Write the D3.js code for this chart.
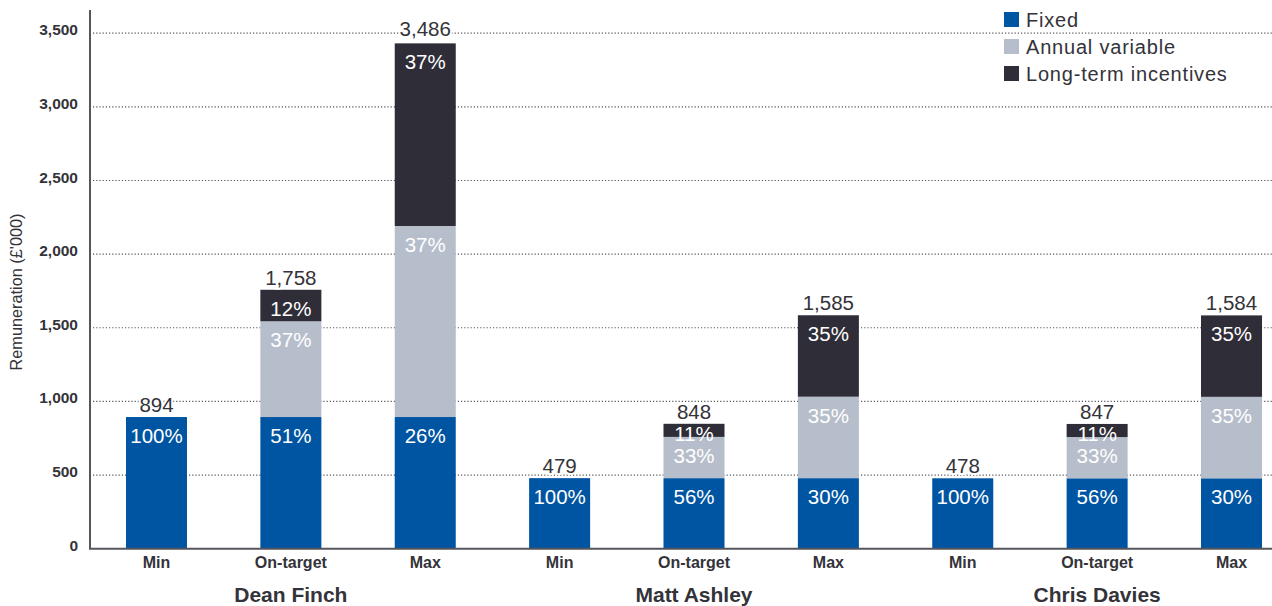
<!DOCTYPE html>
<html>
<head>
<meta charset="utf-8">
<script src="https://cdn.jsdelivr.net/npm/d3@7"></script>
<style>
  body { margin: 0; background: #fff; }
  svg { font-family: "Liberation Sans", Arial, Helvetica, sans-serif; }
</style>
</head>
<body>
<div id="chart"></div>
<script>
// Chart data
const people = ["Dean Finch", "Matt Ashley", "Chris Davies"];
const scenarios = ["Min", "On-target", "Max"];
const seriesNames = ["Fixed", "Annual variable", "Long-term incentives"];

// one value per bar: person x scenario, in order
const fixedValues  = [894, 894, 894, 479, 479, 479, 478, 478, 478];
const annualValues = [0, 650, 1297, 0, 280, 553, 0, 280, 553];
const ltiValues    = [0, 214, 1240, 0, 89, 553, 0, 89, 553];
const totals       = [894, 1758, 3486, 479, 848, 1585, 478, 847, 1584];

const fixedPct  = ["100%", "51%", "26%", "100%", "56%", "30%", "100%", "56%", "30%"];
const annualPct = [null, "37%", "37%", null, "33%", "35%", null, "33%", "35%"];
const ltiPct    = [null, "12%", "37%", null, "11%", "35%", null, "11%", "35%"];

const yTicks = [0, 500, 1000, 1500, 2000, 2500, 3000, 3500];

const colors = ["#0055a2", "#b7becb", "#2f2d38"];
const textDark = "#333339";

// Size of the picture
const width = 1272, height = 606;
const axisX = 90, baseY = 548.7;

const svg = d3.select("#chart")
  .append("svg")
  .attr("width", width)
  .attr("height", height);

// Build one row per bar
const bars = [];
people.forEach((p, i) => {
  scenarios.forEach((s, j) => {
    const k = i * 3 + j;
    bars.push({
      key: p + "|" + s, person: p, scenario: s,
      values: [fixedValues[k], annualValues[k], ltiValues[k]],
      pcts: [fixedPct[k], annualPct[k], ltiPct[k]],
      total: totals[k]
    });
  });
});

// Scales
const xScale = d3.scaleBand()
  .domain(bars.map(d => d.key))
  .range([89.3, 1298.7])
  .paddingInner(0.546)
  .paddingOuter(0.273);

const yScale = d3.scaleLinear()
  .domain([0, 3500])
  .range([baseY, 33.2]);

// Dotted gridlines
svg.append("g")
  .selectAll("line")
  .data(yTicks.filter(t => t > 0))
  .enter()
  .append("line")
  .attr("x1", axisX + 3)
  .attr("x2", width)
  .attr("y1", d => yScale(d))
  .attr("y2", d => yScale(d))
  .attr("stroke", "#55555c")
  .attr("stroke-width", 1.2)
  .attr("stroke-dasharray", "1.2,2");

// Stacked segments
const stack = d3.stack()
  .keys([0, 1, 2])
  .value((d, key) => d.values[key]);
const layers = stack(bars);

layers.forEach((layer, li) => {
  const g = svg.append("g");
  g.selectAll("rect")
    .data(layer.filter(d => d[1] > d[0]))
    .enter()
    .append("rect")
    .attr("x", d => xScale(d.data.key))
    .attr("width", xScale.bandwidth())
    .attr("y", d => yScale(d[1]))
    .attr("height", d => yScale(d[0]) - yScale(d[1]))
    .attr("fill", colors[li]);

  // percentage labels near the top of each segment
  g.selectAll("text")
    .data(layer.filter(d => d[1] > d[0] && d.data.pcts[li]))
    .enter()
    .append("text")
    .attr("x", d => xScale(d.data.key) + xScale.bandwidth() / 2)
    .attr("y", d => {
      const top = yScale(d[1]);
      const h = yScale(d[0]) - top;
      return top + Math.min(26, h + 4);
    })
    .attr("text-anchor", "middle")
    .attr("font-size", 20.5)
    .attr("fill", "#ffffff")
    .text(d => d.data.pcts[li]);
});

// Totals above the bars
svg.append("g")
  .selectAll("text")
  .data(bars)
  .enter()
  .append("text")
  .attr("x", d => xScale(d.key) + xScale.bandwidth() / 2)
  .attr("y", d => Math.min(yScale(d3.sum(d.values)) - 5, yScale(d.total) + 1))
  .attr("text-anchor", "middle")
  .attr("font-size", 20.5)
  .attr("fill", textDark)
  .attr("stroke", "#fff")
  .attr("stroke-width", 4)
  .attr("paint-order", "stroke")
  .text(d => d3.format(",")(d.total));

// Y axis labels
const yAxis = svg.append("g")
  .attr("transform", `translate(${axisX},0)`)
  .call(d3.axisLeft(yScale).tickValues(yTicks).tickSize(0).tickPadding(12).tickFormat(d3.format(",")));
yAxis.select(".domain").remove();
yAxis.selectAll("text")
  .attr("dy", "0.1em")
  .attr("font-family", "Liberation Sans, Arial, sans-serif")
  .attr("font-size", 15.5)
  .attr("font-weight", "bold")
  .attr("fill", textDark);

// Axis lines
svg.append("line")
  .attr("x1", axisX).attr("x2", axisX)
  .attr("y1", 10).attr("y2", baseY)
  .attr("stroke", "#55555c").attr("stroke-width", 2);
svg.append("line")
  .attr("x1", axisX - 1).attr("x2", width)
  .attr("y1", baseY).attr("y2", baseY)
  .attr("stroke", "#55555c").attr("stroke-width", 2);

// Scenario labels under each bar
const xAxis = svg.append("g")
  .attr("transform", `translate(0,${baseY})`)
  .call(d3.axisBottom(xScale).tickSize(0).tickPadding(0).tickFormat(k => k.split("|")[1]));
xAxis.select(".domain").remove();
xAxis.selectAll("text")
  .attr("dy", null)
  .attr("y", 19.5)
  .attr("font-family", "Liberation Sans, Arial, sans-serif")
  .attr("font-size", 16)
  .attr("font-weight", "bold")
  .attr("fill", textDark);

// Person names under the middle bar of each group
svg.append("g")
  .selectAll("text")
  .data(people)
  .enter()
  .append("text")
  .attr("x", p => xScale(p + "|On-target") + xScale.bandwidth() / 2)
  .attr("y", 602)
  .attr("text-anchor", "middle")
  .attr("font-size", 21)
  .attr("font-weight", "bold")
  .attr("fill", textDark)
  .text(p => p);

// Y axis title
svg.append("text")
  .attr("transform", "translate(22,292) rotate(-90)")
  .attr("text-anchor", "middle")
  .attr("font-size", 16.3)
  .attr("fill", textDark)
  .text("Remuneration (£'000)");

// Legend
const legend = svg.append("g")
  .selectAll("g")
  .data(seriesNames)
  .enter()
  .append("g")
  .attr("transform", (d, i) => `translate(1004,${12 + i * 27})`);
legend.append("rect")
  .attr("width", 15).attr("height", 15)
  .attr("fill", (d, i) => colors[i]);
legend.append("text")
  .attr("x", 22).attr("y", 15)
  .attr("font-size", 20)
  .attr("letter-spacing", 0.8)
  .attr("fill", textDark)
  .text(d => d);
</script>
</body>
</html>
